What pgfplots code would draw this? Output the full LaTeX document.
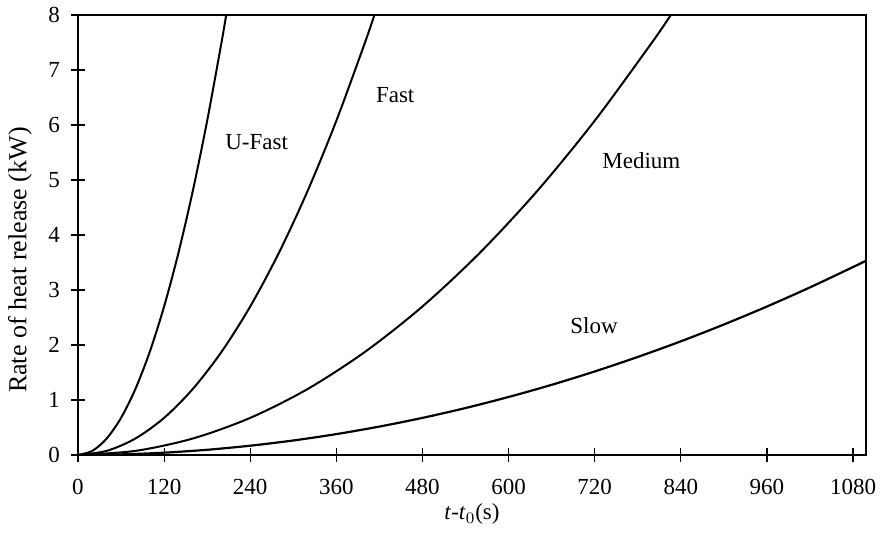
\documentclass[border=0pt]{standalone}
\usepackage{pgfplots}
\pgfplotsset{compat=1.18}
\usepackage{fontspec}
\setmainfont{Liberation Serif}
\begin{document}
\begin{tikzpicture}
\path[use as bounding box] (-39pt,-44pt) rectangle (401pt,227.5pt);
\begin{axis}[
  at={(0,0)}, anchor=south west,
  scale only axis, width=394pt, height=220pt,
  xmin=0, xmax=1098, ymin=0, ymax=8,
  xtick={0,120,...,1080}, ytick={0,1,...,8},
  tick align=center, major tick length=7pt,
  xtick pos=bottom, ytick pos=left,
  axis line style={line width=0.6pt},
  every tick/.style={black, line width=0.6pt},
  /pgf/number format/assume math mode=true,
  /pgf/number format/set thousands separator={},
  tick label style={font=\fontsize{11.5}{13}\selectfont},
  xticklabel style={yshift=-5pt},
  yticklabel style={xshift=-2pt},
  xlabel={\textit{t}-\textit{t}$_0$(s)},
  ylabel={Rate of heat release (kW)},
  label style={font=\fontsize{11.5}{13}\selectfont},
  xlabel style={at={(rel axis cs:0.5,0)}, anchor=center, yshift=-29.5pt},
  ylabel style={at={([xshift=-29pt]rel axis cs:0,0.443)}, anchor=center, font=\fontsize{13}{15}\selectfont},
  clip=true,
]
% Ultra-fast
\addplot[black, line width=1pt, smooth] coordinates {
 (0,0) (20,0.075) (40,0.300) (60,0.675) (80,1.201) (100,1.876) (120,2.701)
 (140,3.677) (160,4.803) (180,6.078) (200,7.504) (206.5,8.000)};
% Fast
\addplot[black, line width=1pt, smooth] coordinates {
 (0,0) (40,0.075) (80,0.300) (120,0.675) (160,1.201) (200,1.876) (240,2.701)
 (280,3.677) (320,4.803) (360,6.078) (400,7.504) (413,8.000)};
% Medium
\addplot[black, line width=1pt, smooth] coordinates {
 (0,0) (80,0.075) (160,0.300) (240,0.675) (320,1.200) (400,1.876) (480,2.701)
 (560,3.677) (640,4.802) (720,6.078) (800,7.504) (826,8.000)};
% Slow
\addplot[black, line width=1.1pt, smooth] coordinates {
 (0,0) (60,0.011) (120,0.042) (180,0.095) (240,0.169) (300,0.264) (360,0.380)
 (420,0.517) (480,0.675) (540,0.854) (600,1.055) (660,1.276) (720,1.519)
 (780,1.783) (840,2.067) (900,2.373) (960,2.700) (1020,3.048) (1080,3.418) (1098,3.532)};
\node[font=\fontsize{11.5}{13}\selectfont] at (axis cs:249,5.69) {U-Fast};
\node[font=\fontsize{11.5}{13}\selectfont] at (axis cs:442,6.55) {Fast};
\node[font=\fontsize{11.5}{13}\selectfont] at (axis cs:785,5.36) {Medium};
\node[font=\fontsize{11.5}{13}\selectfont] at (axis cs:719,2.35) {Slow};
\end{axis}
\end{tikzpicture}
\end{document}
